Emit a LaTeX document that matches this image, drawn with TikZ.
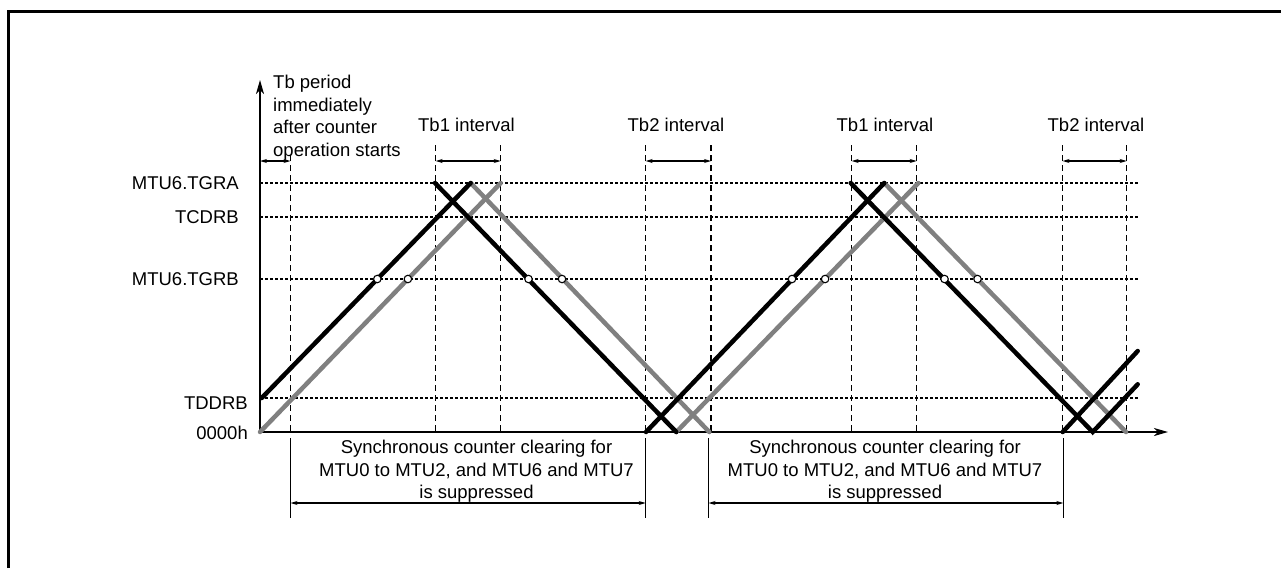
\documentclass[tikz,border=0pt]{standalone}
\usepackage{fontspec}
\setmainfont{Liberation Sans}
\usetikzlibrary{arrows.meta}
\definecolor{lgray}{RGB}{128,128,128}
\begin{document}
\begin{tikzpicture}[x=1pt,y=-1pt,
  lbl/.style={font=\fontsize{18.5}{22.4}\selectfont, inner sep=0pt},
  hgrid/.style={line width=1.3pt, dash pattern=on 3pt off 2pt},
  vdash/.style={line width=1.3pt, dash pattern=on 6pt off 4pt},
  blk/.style={line width=4.5pt, line cap=round, black},
  gry/.style={line width=4.5pt, line cap=round, lgray},
  dimarrow/.style={line width=1.1pt, {Stealth[length=7pt,width=4pt]}-{Stealth[length=7pt,width=4pt]}},
  axisline/.style={line width=1.6pt, -{Stealth[length=14pt,width=8pt,inset=4pt]}},
  dotmark/.style={circle, draw, fill=white, line width=1.1pt, minimum size=7.5pt, inner sep=0pt},
  solidv/.style={line width=1.3pt}
]
\useasboundingbox (0,0) rectangle (1281,568);
% frame
\draw[line width=2.8pt, line join=miter] (8.7,568) -- (8.7,11.4) -- (1281,11.4);

% horizontal levels
\foreach \yy in {183,217,279,398} \draw[hgrid] (260,\yy) -- (1138,\yy);

% vertical dashed lines
\draw[vdash] (290.5,155) -- (290.5,432);
\foreach \xx in {435.7,500.7,645.7,711,851.7,916.7,1062.5,1126.7}
  \draw[vdash] (\xx,145) -- (\xx,432);

% axes
\coordinate (O) at (260,432);
\coordinate (Ytop) at (260,80);
\coordinate (Xend) at (1168,432);
\draw[axisline] (O) -- (Ytop);
\draw[axisline] (O) -- (Xend);

% counters
\coordinate (g1a) at (260,432);   \coordinate (g1b) at (500.7,183);
\coordinate (b1a) at (261.7,398); \coordinate (p1)  at (470.7,183);
\coordinate (b2a) at (435,183);   \coordinate (v1)  at (676.3,432);
\coordinate (g2b) at (709.3,432);
\coordinate (b3a) at (646,432);   \coordinate (p2)  at (884.3,183);
\coordinate (g3b) at (918.3,183);
\coordinate (b4a) at (850.7,183); \coordinate (v2)  at (1092.7,432);
\coordinate (g4b) at (1126,432);
\coordinate (b5a) at (1062.7,432); \coordinate (b5b) at (1137.7,351);
\coordinate (b6b) at (1137.7,384.3);

\draw[gry] (g1a) -- (g1b);
\draw[gry] (p1) -- (g2b);
\draw[gry] (v1) -- (g3b);
\draw[gry] (p2) -- (g4b);
\draw[blk] (b1a) -- (p1);
\draw[blk] (b2a) -- (v1);
\draw[blk] (b3a) -- (p2);
\draw[blk] (b4a) -- (v2) -- (b6b);
\draw[blk] (b5a) -- (b5b);

% compare-match marks at MTU6.TGRB
\foreach \xx/\nm in {377.3/m1,407.9/m2,528.5/m3,562/m4,792/m5,825.1/m6,944.5/m7,977.5/m8}
  \node[dotmark] (\nm) at (\xx,279) {};

% level labels
\node[lbl, anchor=east] (lTGRA) at (239,183) {MTU6.TGRA};
\node[lbl, anchor=east] (lTCDRB) at (239,217) {TCDRB};
\node[lbl, anchor=east] (lTGRB) at (239,279.5) {MTU6.TGRB};
\node[lbl, anchor=east] (lTDDRB) at (248,403.5) {TDDRB};
\node[lbl, anchor=east] (lzero) at (248,432.5) {0000h};

% top annotations
\node[lbl, anchor=north west, align=left] (tbp) at (273,75.2) {Tb period\\immediately\\after counter\\operation starts};
\node[lbl] (tb1a) at (466.5,125) {Tb1 interval};
\node[lbl] (tb2a) at (676,125) {Tb2 interval};
\node[lbl] (tb1b) at (885,125) {Tb1 interval};
\node[lbl] (tb2b) at (1096,125) {Tb2 interval};

\draw[dimarrow] (260,161) -- (290.5,161);
\draw[dimarrow] (435.7,161) -- (500.7,161);
\draw[dimarrow] (645.7,161) -- (711,161);
\draw[dimarrow] (851.7,161) -- (916.7,161);
\draw[dimarrow] (1062.5,161) -- (1126.7,161);

% bottom annotations
\foreach \xx in {290.5,645.7,708.5,1063.3} \draw[solidv] (\xx,438) -- (\xx,518);
\draw[dimarrow] (290.5,503) -- (645.7,503);
\draw[dimarrow] (708.5,503) -- (1063.3,503);
\node[lbl, anchor=north, align=center] (sup1) at (476.5,440) {Synchronous counter clearing for\\MTU0 to MTU2, and MTU6 and MTU7\\is suppressed};
\node[lbl, anchor=north, align=center] (sup2) at (885,440) {Synchronous counter clearing for\\MTU0 to MTU2, and MTU6 and MTU7\\is suppressed};
\end{tikzpicture}
\end{document}
